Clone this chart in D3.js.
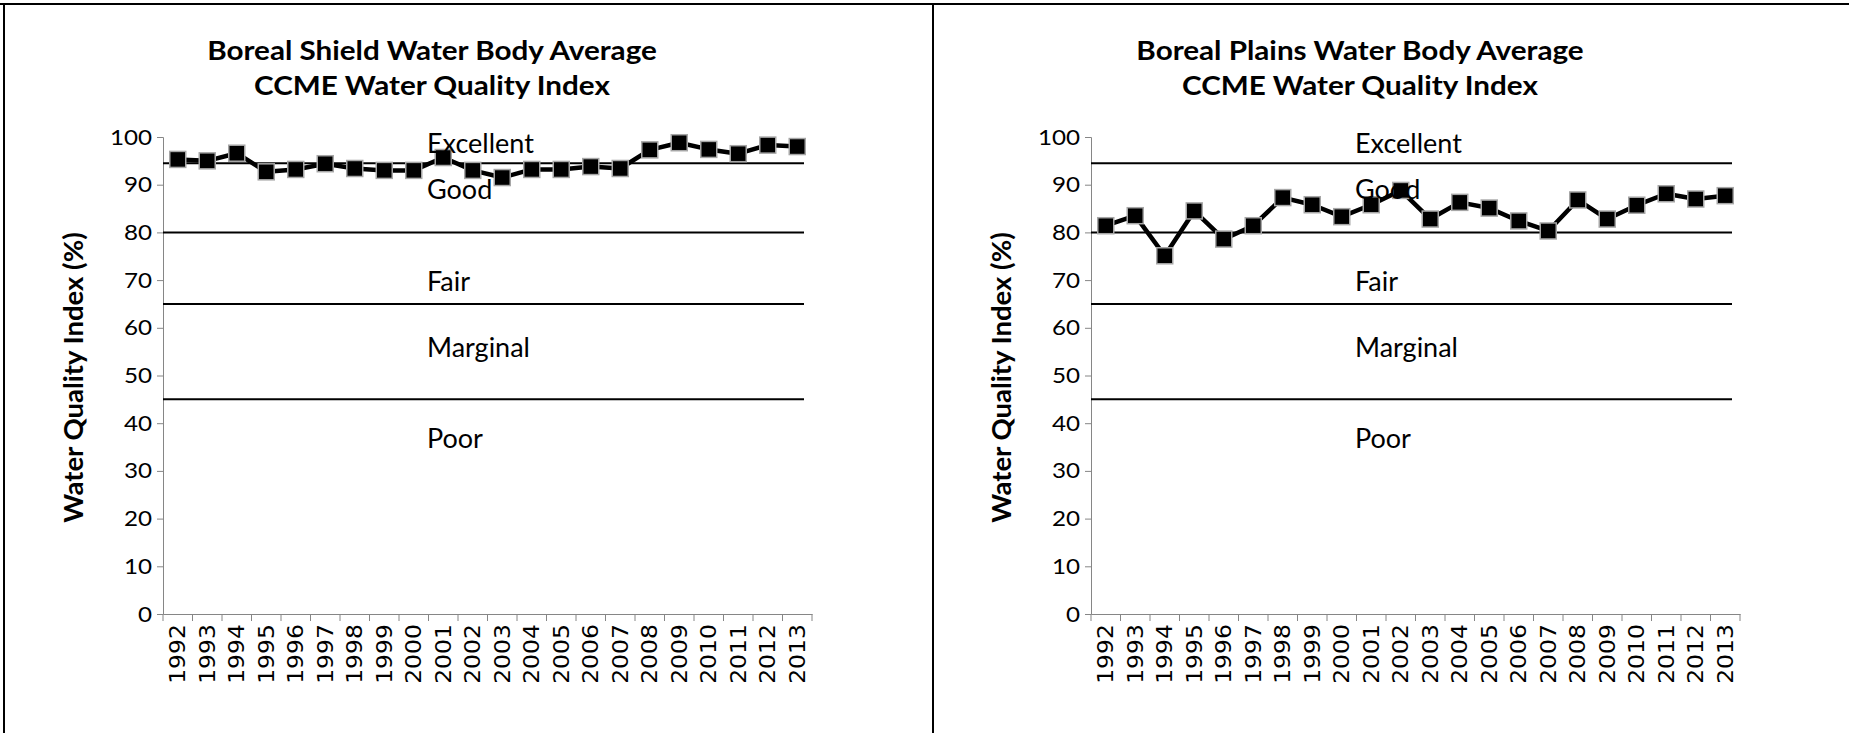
<!DOCTYPE html>
<html lang="en">
<head>
    <meta charset="UTF-8">
    <title>Boreal Water Body Average CCME Water Quality Index</title>
    <script src="https://d3js.org/d3.v7.min.js"></script>
    <style>
        body { margin: 0; background: #fff; }
        svg { display: block; }
        .title { font-family: Lato, sans-serif; font-weight: bold; font-size: 26px; }
        .ylab { font-family: Lato, sans-serif; font-weight: bold; font-size: 27.5px; }
        .band { font-family: Lato, sans-serif; font-size: 27px; }
        .ytick text { font-family: Lato, sans-serif; font-size: 22px; fill: #000; }
        .xtick text { font-family: "DejaVu Sans", sans-serif; font-size: 21px; fill: #000; }
    </style>
</head>
<body>
    <svg width="1849" height="733"></svg>

    <script>
        const years = ["1992","1993","1994","1995","1996","1997","1998","1999","2000","2001","2002",
                       "2003","2004","2005","2006","2007","2008","2009","2010","2011","2012","2013"];
        const shieldValues = [95.3, 95.0, 96.6, 92.7, 93.2, 94.4, 93.4, 93.0, 93.0, 95.7, 93.0,
                              91.5, 93.2, 93.2, 93.8, 93.4, 97.3, 98.8, 97.4, 96.5, 98.3, 98.0];
        const plainsValues = [81.4, 83.5, 75.1, 84.5, 78.6, 81.4, 87.3, 85.8, 83.3, 85.8, 88.8,
                              82.8, 86.3, 85.1, 82.4, 80.3, 86.8, 82.8, 85.7, 88.1, 87.0, 87.7];
        const thresholds = [94.5, 80, 65, 45];
        const bandNames = ["Excellent", "Good", "Fair", "Marginal", "Poor"];
        const bandLabelValues = [98.6, 88.9, 69.6, 55.8, 36.8];
        const yTicks = [0, 10, 20, 30, 40, 50, 60, 70, 80, 90, 100];

        const svg = d3.select("svg");

        // panel borders
        svg.append("line").attr("x1", 0).attr("x2", 1849).attr("y1", 4).attr("y2", 4)
            .attr("stroke", "#000").attr("stroke-width", 2);
        [4, 933].forEach(x => {
            svg.append("line").attr("x1", x).attr("x2", x).attr("y1", 4).attr("y2", 733)
                .attr("stroke", "#000").attr("stroke-width", 2);
        });

        function drawChart(left, titleLines, values) {
            const top = 137, bottom = 614, plotW = 649;
            const g = svg.append("g");

            const x = d3.scaleBand().domain(years).range([left, left + plotW]).padding(0);
            const y = d3.scaleLinear().domain([0, 100]).range([bottom, top]);

            // title (text in the original is drawn a bit wide)
            titleLines.forEach((t, i) => {
                g.append("text").attr("class", "title")
                    .attr("transform", `translate(${left + 269},${60 + i * 35}) scale(1.14,1)`)
                    .attr("text-anchor", "middle").text(t);
            });

            // y axis title
            g.append("text").attr("class", "ylab")
                .attr("transform", `translate(${left - 80},${(top + bottom) / 2 + 2}) rotate(-90)`)
                .attr("text-anchor", "middle").text("Water Quality Index (%)");

            // y axis
            const yAxis = g.append("g").attr("class", "ytick")
                .attr("transform", `translate(${left},0)`)
                .call(d3.axisLeft(y).tickValues(yTicks).tickSize(6).tickPadding(0));
            yAxis.selectAll("path, line").attr("stroke", "#868686");
            yAxis.selectAll("text")
                .attr("x", 0)
                .attr("transform", "translate(-11,0) scale(1.1,1)");

            // x axis: labels at band centres, ticks at band edges
            const xAxis = g.append("g").attr("class", "xtick")
                .attr("transform", `translate(0,${bottom})`)
                .call(d3.axisBottom(x).tickSize(0).tickPadding(0));
            xAxis.select("path").attr("stroke", "#868686");
            xAxis.selectAll("text")
                .attr("transform", "translate(0,10) rotate(-90) scale(1.12,1)")
                .attr("text-anchor", "end")
                .attr("dy", "0.36em")
                .attr("x", 0).attr("y", 0);
            const edges = years.map(d => x(d)).concat([x.range()[1]]);
            g.selectAll(".xt").data(edges).enter().append("line")
                .attr("x1", d => d).attr("x2", d => d)
                .attr("y1", bottom).attr("y2", bottom + 7)
                .attr("stroke", "#868686");

            // threshold lines
            g.selectAll(".thr").data(thresholds).enter().append("line")
                .attr("x1", left).attr("x2", left + plotW - 8)
                .attr("y1", d => y(d)).attr("y2", d => y(d))
                .attr("stroke", "#000").attr("stroke-width", 2);

            // data line
            const line = d3.line().x((d, i) => x(years[i]) + x.bandwidth() / 2).y(d => y(d));
            g.append("path").datum(values)
                .attr("d", line).attr("fill", "none")
                .attr("stroke", "#000").attr("stroke-width", 4.5)
                .attr("stroke-linejoin", "round");

            // markers
            const ms = 16;
            g.selectAll(".mk").data(values).enter().append("rect")
                .attr("x", (d, i) => x(years[i]) + x.bandwidth() / 2 - ms / 2)
                .attr("y", d => y(d) - ms / 2)
                .attr("width", ms).attr("height", ms)
                .attr("fill", "#000").attr("stroke", "#a6a6a6").attr("stroke-width", 1.5);

            // quality band labels
            g.selectAll(".band").data(bandNames).enter().append("text")
                .attr("class", "band")
                .attr("transform", (d, i) => `translate(${left + 264},${y(bandLabelValues[i])})`)
                .attr("dy", "0.35em")
                .text(d => d);
        }

        drawChart(163, ["Boreal Shield Water Body Average", "CCME Water Quality Index"], shieldValues);
        drawChart(1091, ["Boreal Plains Water Body Average", "CCME Water Quality Index"], plainsValues);
    </script>
</body>
</html>
